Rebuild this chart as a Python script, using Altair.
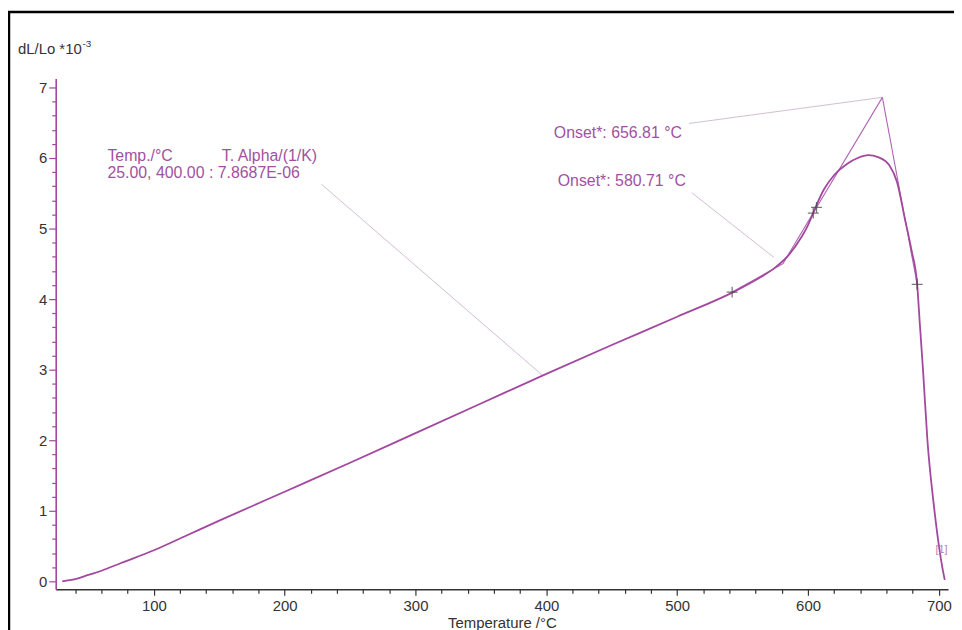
import altair as alt
import pandas as pd

# ---- data ----
temps = [30, 40, 50, 60, 75, 100, 125, 150, 200, 250, 300, 350, 400, 450, 500, 544,
         560, 575, 585, 595, 600, 605, 612, 620, 630, 638, 646, 654, 662, 668, 674,
         679, 683.4, 685.4, 688, 691.2, 696.2, 703.2, 704.5]
dl = [0.0, 0.03, 0.09, 0.15, 0.26, 0.44, 0.65, 0.86, 1.27, 1.68, 2.10, 2.52, 2.94, 3.35, 3.75, 4.11,
      4.27, 4.45, 4.62, 4.88, 5.05, 5.27, 5.55, 5.76, 5.92, 6.00, 6.04, 6.01, 5.90, 5.66, 5.14,
      4.7, 4.21, 3.66, 2.96, 2.01, 1.07, 0.14, 0.02]

cross_t = [542, 604, 606.5, 683.4]
cross_v = [4.10, 5.22, 5.30, 4.21]

tangent_id = ["a", "a", "b", "b", "c", "c"]
tangent_t = [540, 580.71, 580.71, 656.81, 656.81, 683.4]
tangent_v = [4.08, 4.50, 4.50, 6.86, 6.86, 4.21]

leader_id = ["l1", "l1", "l2", "l2", "l3", "l3"]
leader_t = [509, 656.81, 511, 574, 228, 397]
leader_v = [6.49, 6.86, 5.51, 4.59, 5.63, 2.92]

label_text = ["Temp./°C", "T. Alpha/(1/K)", "25.00, 400.00 : 7.8687E-06",
              "Onset*: 656.81 °C", "Onset*: 580.71 °C"]
label_t = [64.5, 152, 64.5, 405.7, 408.7]
label_v = [6.03, 6.03, 5.79, 6.35, 5.68]

x_ticks = list(range(40, 701, 20))
y_ticks = [round(i * 0.2, 1) for i in range(0, 36)]

W, H = 898, 514
MAG = "#a3479f"
TXT = "#a052a0"
FONT = "Liberation Sans"

xs = alt.Scale(domain=[25, 707], nice=False, zero=False)
ys = alt.Scale(domain=[-0.113, 7.127], nice=False, zero=False)

x_axis = alt.Axis(
    values=x_ticks, title="Temperature /°C", grid=False,
    labelExpr="datum.value % 100 === 0 ? format(datum.value, 'd') : ''",
    labelOverlap=False, labelFont=FONT, labelFontSize=15, labelColor="#333",
    tickColor="#333", tickWidth=1.2,
    tickSize={"condition": {"test": "datum.value % 100 === 0", "value": 6}, "value": 4},
    labelPadding=3, domainColor="#333", domainWidth=1.6,
    titleFont=FONT, titleFontSize=15, titleFontWeight="normal", titleColor="#333",
    titlePadding=2)
y_axis = alt.Axis(
    values=y_ticks, title=None, grid=False,
    labelExpr="abs(datum.value - round(datum.value)) < 0.001 ? format(datum.value, 'd') : ''",
    labelOverlap=False, labelFont=FONT, labelFontSize=15, labelColor="#333",
    tickColor=MAG, tickWidth=1.2,
    tickSize={"condition": {"test": "abs(datum.value - round(datum.value)) < 0.001", "value": 7}, "value": 4},
    labelPadding=2, domainColor=MAG, domainWidth=1.6)


def xe():
    return alt.X("T:Q", scale=xs, axis=x_axis, title="Temperature /°C")


def ye():
    return alt.Y("v:Q", scale=ys, axis=y_axis, title=None)


curve_df = pd.DataFrame({"T": temps, "v": dl, "i": range(len(temps))})
curve = alt.Chart(curve_df).mark_line(color=MAG, strokeWidth=1.8, interpolate="monotone").encode(
    x=xe(), y=ye(), order="i:Q")

tang_df = pd.DataFrame({"g": tangent_id, "T": tangent_t, "v": tangent_v, "i": range(6)})
tangents = alt.Chart(tang_df).mark_line(color="#b065b0", strokeWidth=1.1).encode(
    x=xe(), y=ye(), detail="g:N", order="i:Q")

lead_df = pd.DataFrame({"g": leader_id, "T": leader_t, "v": leader_v, "i": range(6)})
leaders = alt.Chart(lead_df).mark_line(color="#cdb6cd", strokeWidth=0.9).encode(
    x=xe(), y=ye(), detail="g:N", order="i:Q")

cross_df = pd.DataFrame({"T": cross_t, "v": cross_v})
crosses = alt.Chart(cross_df).mark_point(
    shape="M-1,0L1,0M0,-1L0,1", size=120, color="#444", strokeWidth=1.3, filled=False
).encode(x=xe(), y=ye())

lab_df = pd.DataFrame({"t": label_text, "T": label_t, "v": label_v})
labels = alt.Chart(lab_df).mark_text(
    align="left", baseline="middle", font=FONT, fontSize=16, color=TXT
).encode(x=xe(), y=ye(), text="t:N")

tag_df = pd.DataFrame({"t": ["[1]"], "T": [702], "v": [0.44]})
tag = alt.Chart(tag_df).mark_text(
    align="center", baseline="middle", font=FONT, fontSize=11, color="#b585b5"
).encode(x=xe(), y=ye(), text="t:N")

one = pd.DataFrame({"a": [0]})
ytitle = alt.Chart(one).mark_text(
    align="left", baseline="middle", font=FONT, fontSize=15, color="#333", text="dL/Lo *10"
).encode(x=alt.value(-38), y=alt.value(-30))
ysup = alt.Chart(one).mark_text(
    align="left", baseline="middle", font=FONT, fontSize=10, color="#333", text="-3"
).encode(x=alt.value(27), y=alt.value(-35))

frame_left = alt.Chart(one).mark_rule(color="#000", strokeWidth=2.5).encode(
    x=alt.value(-47), y=alt.value(-68), y2=alt.value(H + 60))
frame_top = alt.Chart(one).mark_rule(color="#000", strokeWidth=2.5).encode(
    x=alt.value(-48), x2=alt.value(W + 20), y=alt.value(-67))

chart = alt.layer(
    leaders, tangents, curve, crosses, labels, tag, ytitle, ysup, frame_left, frame_top
).properties(
    width=W, height=H,
    background="white",
    autosize=alt.AutoSizeParams(type="none"),
    padding={"left": 48, "top": 69, "right": 6, "bottom": 39},
).configure_view(strokeWidth=0, stroke="transparent")

chart.save("out.html", embed_options={"renderer": "svg", "actions": False})
